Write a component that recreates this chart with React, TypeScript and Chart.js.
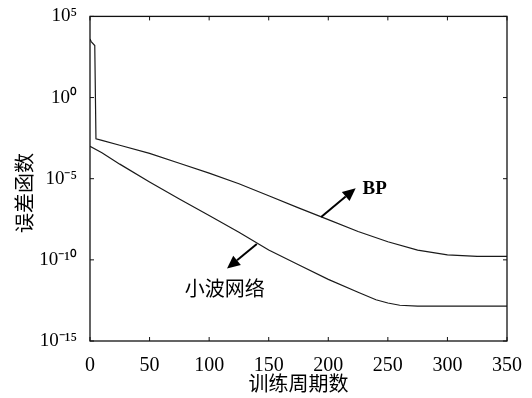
import React, { useEffect, useRef } from "react";
import { Chart, registerables } from "chart.js";

Chart.register(...registerables);

// Training epochs (x) and error values (y, log scale)
const bpEpochs = [0, 1, 4, 5, 10, 25, 50, 75, 100, 125, 150, 175, 200, 225, 250, 275, 300, 325, 350];
const bpError = [4.0e3, 2.8e3, 1.6e3, 2.9e-3, 2.3e-3, 1.15e-3, 3.6e-4, 8.9e-5, 2.2e-5, 4.9e-6, 8.9e-7, 1.6e-7, 3.0e-8, 5.6e-9, 1.3e-9, 4.0e-10, 2.0e-10, 1.66e-10, 1.66e-10];

const wnEpochs = [0, 10, 25, 50, 75, 100, 125, 150, 175, 200, 225, 240, 250, 260, 275, 300, 325, 350];
const wnError = [1.0e-3, 4.0e-4, 7.9e-5, 6.3e-6, 5.6e-7, 5.4e-8, 5.0e-9, 4.0e-10, 5.0e-11, 6.3e-12, 1.0e-12, 3.5e-13, 2.2e-13, 1.6e-13, 1.4e-13, 1.4e-13, 1.4e-13, 1.4e-13];

const xTicks = [0, 50, 100, 150, 200, 250, 300, 350];
const yTicks = [1e-15, 1e-10, 1e-5, 1, 1e5];
const yTickLabels = ["10⁻¹⁵", "10⁻¹⁰", "10⁻⁵", "10⁰", "10⁵"];

const xTitle = "训练周期数";
const yTitle = "误差函数";

// Annotation arrows: [fromX, fromY, toX, toY] in data units
const bpArrow = [194, 4.4e-8, 223, 2.6e-6];
const wnArrow = [140, 9.5e-10, 115, 2.9e-11];
const bpLabel = { text: "BP", x: 239, y: 2.3e-6 };
const wnLabel = { text: "小波网络", x: 113, y: 1.7e-12 };

export default function App() {
  const ref = useRef<HTMLCanvasElement | null>(null);

  useEffect(() => {
    if (!ref.current) return;

    const overlay = {
      id: "overlay",
      afterDraw(chart: any) {
        const { ctx, chartArea: a, scales } = chart;
        const xs = scales.x;
        const ys = scales.y;
        ctx.save();
        ctx.strokeStyle = "#111";
        ctx.lineWidth = 1.3;
        ctx.strokeRect(a.left, a.top, a.right - a.left, a.bottom - a.top);
        // inward ticks
        ctx.lineWidth = 1;
        ctx.beginPath();
        xTicks.forEach((v) => {
          const px = xs.getPixelForValue(v);
          ctx.moveTo(px, a.bottom);
          ctx.lineTo(px, a.bottom - 4);
          ctx.moveTo(px, a.top);
          ctx.lineTo(px, a.top + 4);
        });
        yTicks.forEach((v) => {
          const py = ys.getPixelForValue(v);
          ctx.moveTo(a.left, py);
          ctx.lineTo(a.left + 4, py);
          ctx.moveTo(a.right, py);
          ctx.lineTo(a.right - 4, py);
        });
        ctx.stroke();

        // arrows
        const drawArrow = (arr: number[]) => {
          const x1 = xs.getPixelForValue(arr[0]);
          const y1 = ys.getPixelForValue(arr[1]);
          const x2 = xs.getPixelForValue(arr[2]);
          const y2 = ys.getPixelForValue(arr[3]);
          const ang = Math.atan2(y2 - y1, x2 - x1);
          const len = 13;
          const hw = 6;
          const bx = x2 - len * Math.cos(ang);
          const by = y2 - len * Math.sin(ang);
          ctx.strokeStyle = "#000";
          ctx.lineWidth = 2;
          ctx.beginPath();
          ctx.moveTo(x1, y1);
          ctx.lineTo(bx, by);
          ctx.stroke();
          ctx.fillStyle = "#000";
          ctx.beginPath();
          ctx.moveTo(x2, y2);
          ctx.lineTo(bx + hw * Math.sin(ang), by - hw * Math.cos(ang));
          ctx.lineTo(bx - hw * Math.sin(ang), by + hw * Math.cos(ang));
          ctx.closePath();
          ctx.fill();
        };
        drawArrow(bpArrow);
        drawArrow(wnArrow);

        ctx.fillStyle = "#000";
        ctx.textAlign = "center";
        ctx.textBaseline = "middle";
        ctx.font = "bold 19px 'Liberation Serif', serif";
        ctx.fillText(bpLabel.text, xs.getPixelForValue(bpLabel.x), ys.getPixelForValue(bpLabel.y));
        ctx.font = "20px 'Noto Sans CJK SC', sans-serif";
        ctx.fillText(wnLabel.text, xs.getPixelForValue(wnLabel.x), ys.getPixelForValue(wnLabel.y));

        // axis titles
        ctx.fillText(xTitle, (a.left + a.right) / 2, 383);
        ctx.save();
        ctx.translate(24, 193);
        ctx.rotate(-Math.PI / 2);
        ctx.fillText(yTitle, 0, 0);
        ctx.restore();
        ctx.restore();
      },
    };

    const chart = new Chart(ref.current, {
      type: "line",
      data: {
        datasets: [
          {
            label: "BP",
            data: bpEpochs.map((x, i) => ({ x, y: bpError[i] })),
            borderColor: "#1a1a1a",
            borderWidth: 1.2,
            pointRadius: 0,
            tension: 0,
          },
          {
            label: "小波网络",
            data: wnEpochs.map((x, i) => ({ x, y: wnError[i] })),
            borderColor: "#1a1a1a",
            borderWidth: 1.2,
            pointRadius: 0,
            tension: 0,
          },
        ],
      },
      options: {
        animation: false,
        responsive: true,
        maintainAspectRatio: false,
        layout: { padding: { top: 14, right: 25, left: 0, bottom: 0 } },
        plugins: { legend: { display: false }, tooltip: { enabled: false } },
        scales: {
          x: {
            type: "linear",
            min: 0,
            max: 350,
            afterBuildTicks: (s: any) => {
              s.ticks = xTicks.map((v) => ({ value: v }));
            },
            afterFit: (s: any) => {
              s.height = 57;
            },
            grid: { display: false },
            border: { display: false },
            ticks: {
              color: "#000",
              padding: 5,
              maxRotation: 0,
              autoSkip: false,
              font: { family: "'Liberation Serif', serif", size: 20 },
            },
          },
          y: {
            type: "logarithmic",
            min: 1e-15,
            max: 1e5,
            afterBuildTicks: (s: any) => {
              s.ticks = yTicks.map((v) => ({ value: v }));
            },
            afterFit: (s: any) => {
              s.width = 90;
            },
            grid: { display: false },
            border: { display: false },
            ticks: {
              color: "#000",
              padding: 5,
              autoSkip: false,
              font: { family: "'Liberation Serif', serif", size: 19 },
              callback: (v: any) => {
                const i = yTicks.findIndex((t) => Math.abs(Math.log10(t) - Math.log10(Number(v))) < 1e-6);
                return i >= 0 ? yTickLabels[i] : "";
              },
            },
          },
        },
      },
      plugins: [overlay],
    });
    return () => chart.destroy();
  }, []);

  return (
    <div style={{ position: "fixed", left: 0, top: 0, width: 532, height: 398, background: "#fff" }}>
      <canvas ref={ref} />
    </div>
  );
}
